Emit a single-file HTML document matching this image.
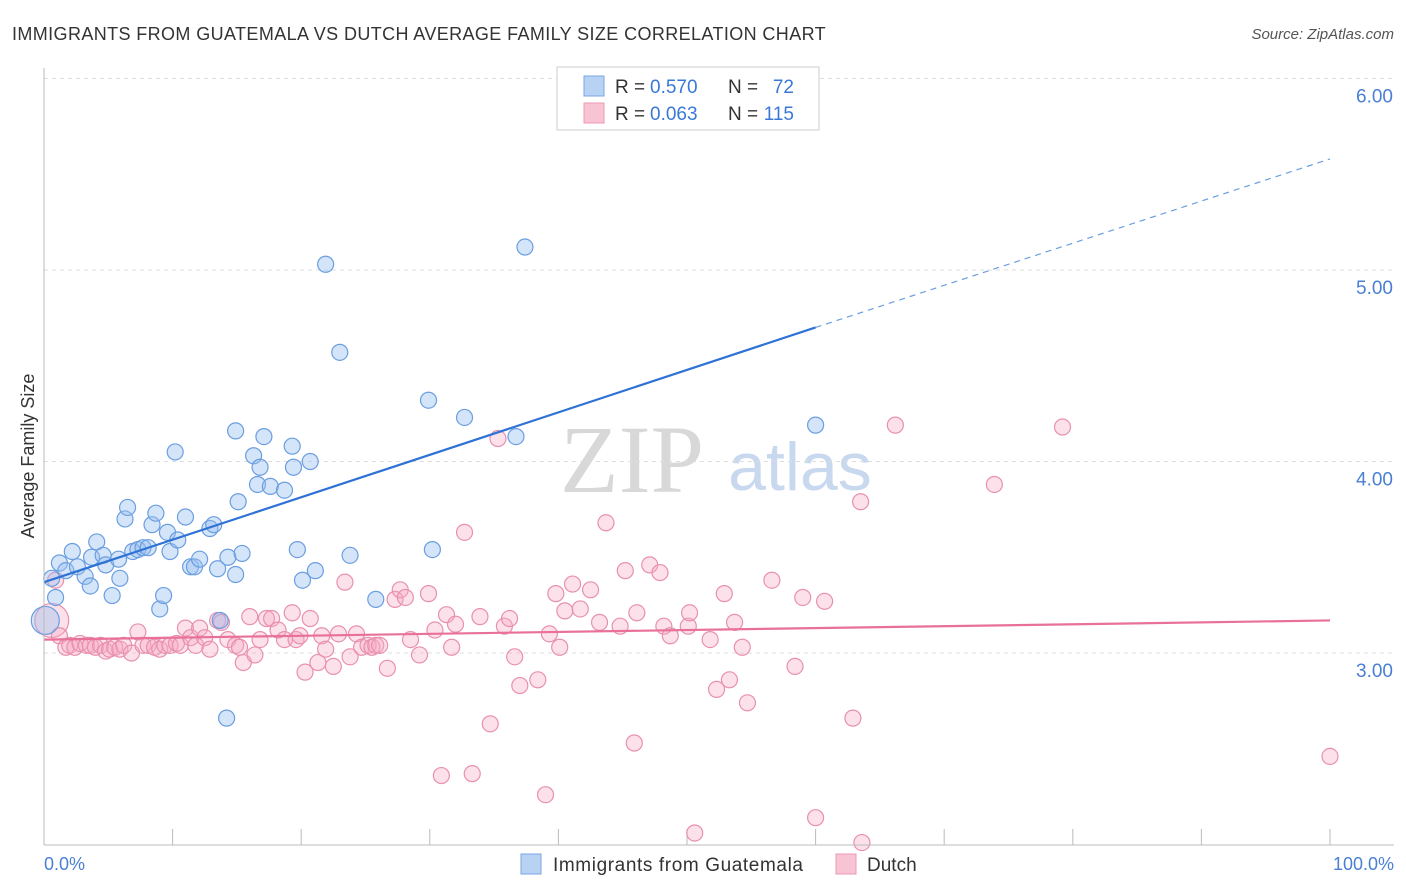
<!DOCTYPE html>
<html><head><meta charset="utf-8"><style>
body{margin:0;background:#fff;font-family:"Liberation Sans",sans-serif;}
svg{display:block}
</style></head><body>
<svg id="chart" width="1406" height="892">
<text x="12" y="40" font-size="18" fill="#333" letter-spacing="0.35" textLength="814">IMMIGRANTS FROM GUATEMALA VS DUTCH AVERAGE FAMILY SIZE CORRELATION CHART</text>
<text x="1394" y="39" font-size="15" fill="#555" font-style="italic" text-anchor="end">Source: ZipAtlas.com</text>
<text x="632" y="492" font-size="96" fill="#d8d8d8" font-family="Liberation Serif,serif" text-anchor="middle">ZIP</text>
<text x="800" y="490" font-size="68" fill="#c8d8ee" text-anchor="middle">atlas</text>
<text transform="translate(34,456) rotate(-90)" font-size="18" fill="#333" text-anchor="middle">Average Family Size</text>
<g id="grid"></g><g id="marks"></g>
<line x1="44" y1="68" x2="44" y2="845" stroke="#bbb"/>
<line x1="44" y1="845" x2="1394" y2="845" stroke="#bbb"/>
<text x="44" y="870" font-size="18" fill="#4a7fd4">0.0%</text>
<text x="1394" y="870" font-size="18" fill="#4a7fd4" text-anchor="end">100.0%</text>
<g>
<rect x="557" y="67" width="262" height="63" fill="#fff" stroke="#ccc"/>
<rect x="584" y="76" width="20" height="20" fill="#b8d2f4" stroke="#7aa6e2"/>
<rect x="584" y="103" width="20" height="20" fill="#f8c4d4" stroke="#ea98b4"/>
<text x="615" y="93" font-size="19" fill="#333">R =</text>
<text x="650" y="93" font-size="19" fill="#3a78d8">0.570</text>
<text x="728" y="93" font-size="19" fill="#333">N =</text>
<text x="794" y="93" font-size="19" fill="#3a78d8" text-anchor="end">72</text>
<text x="615" y="120" font-size="19" fill="#333">R =</text>
<text x="650" y="120" font-size="19" fill="#3a78d8">0.063</text>
<text x="728" y="120" font-size="19" fill="#333">N =</text>
<text x="794" y="120" font-size="19" fill="#3a78d8" text-anchor="end">115</text>
</g>
<g>
<rect x="521" y="854" width="20" height="20" fill="#b8d2f4" stroke="#7aa6e2"/>
<text x="553" y="871" font-size="19" fill="#333" textLength="250">Immigrants from Guatemala</text>
<rect x="836" y="854" width="20" height="20" fill="#f8c4d4" stroke="#ea98b4"/>
<text x="867" y="871" font-size="19" fill="#333">Dutch</text>
</g>
</svg>
<script>
const yTicks=[3,4,5,6];
const yTickLabels=["3.00","4.00","5.00","6.00"];
const xTicks=[0,10,20,30,40,50,60,70,80,90,100];
const blueX=[0.6,0.9,1.2,1.7,2.2,2.6,3.2,3.6,3.7,4.1,4.6,4.8,5.3,5.8,5.9,6.3,6.5,6.9,7.3,7.7,8.1,8.4,8.7,9.0,9.3,9.6,9.8,10.2,10.4,11.0,11.4,11.7,12.1,12.9,13.2,13.5,13.7,14.2,14.3,14.9,14.9,15.1,15.4,16.3,16.6,16.8,17.1,17.6,18.7,19.3,19.4,19.7,20.1,20.7,21.1,21.9,23.0,23.8,25.8,29.9,30.2,32.7,36.7,37.4,60.0,0.1];
const blueY=[3.39,3.29,3.47,3.43,3.53,3.45,3.40,3.35,3.50,3.58,3.51,3.46,3.30,3.49,3.39,3.70,3.76,3.53,3.54,3.55,3.55,3.67,3.73,3.23,3.30,3.63,3.53,4.05,3.59,3.71,3.45,3.45,3.49,3.65,3.67,3.44,3.17,2.66,3.50,3.41,4.16,3.79,3.52,4.03,3.88,3.97,4.13,3.87,3.85,4.08,3.97,3.54,3.38,4.00,3.43,5.03,4.57,3.51,3.28,4.32,3.54,4.23,4.13,5.12,4.19,3.17];
const pinkX=[0.6,0.9,1.2,1.7,2.0,2.4,2.8,3.3,3.6,4.0,4.4,4.8,5.1,5.5,5.9,6.2,6.8,7.3,7.7,8.1,8.6,9.0,9.4,9.8,10.3,10.6,11.0,11.4,11.8,12.1,12.5,12.9,13.5,13.8,14.3,14.9,15.2,15.5,16.0,16.4,16.8,17.3,17.7,18.2,18.7,19.3,19.6,19.9,20.3,20.7,21.3,21.6,21.9,22.5,22.9,23.4,23.8,24.3,24.7,25.2,25.5,25.8,26.1,26.7,27.3,27.7,28.1,28.5,29.2,29.9,30.4,30.9,31.3,31.7,32.0,32.7,33.3,33.9,34.7,35.3,35.8,36.2,36.6,37.0,38.4,39.0,39.3,39.8,40.1,40.5,41.1,41.7,42.5,43.2,43.7,44.8,45.2,45.9,46.1,47.1,47.9,48.2,48.7,50.1,50.2,50.6,51.8,52.3,52.9,53.3,53.7,54.3,54.7,56.6,58.4,59.0,60.0,60.7,62.9,63.5,63.6,66.2,73.9,79.2,100];
const pinkY=[3.17,3.38,3.09,3.03,3.04,3.03,3.05,3.04,3.04,3.03,3.04,3.01,3.02,3.03,3.02,3.04,3.00,3.11,3.04,3.04,3.03,3.02,3.04,3.04,3.05,3.04,3.13,3.08,3.04,3.13,3.08,3.02,3.17,3.16,3.07,3.04,3.03,2.95,3.19,2.99,3.07,3.18,3.18,3.12,3.07,3.21,3.07,3.09,2.90,3.18,2.95,3.09,3.02,2.93,3.10,3.37,2.98,3.10,3.03,3.04,3.03,3.04,3.04,2.92,3.28,3.33,3.29,3.07,2.99,3.31,3.12,2.36,3.20,3.03,3.15,3.63,2.37,3.19,2.63,4.12,3.14,3.18,2.98,2.83,2.86,2.26,3.10,3.31,3.03,3.22,3.36,3.23,3.33,3.16,3.68,3.14,3.43,2.53,3.21,3.46,3.42,3.14,3.09,3.14,3.21,2.06,3.07,2.81,3.31,2.86,3.16,3.03,2.74,3.38,2.93,3.29,2.14,3.27,2.66,3.79,2.01,4.19,3.88,4.18,2.46];
const blueTrendX=[0,60,100];
const blueTrendY=[3.37,4.70,5.58];
const pinkTrendX=[0,100];
const pinkTrendY=[3.07,3.17];
const NS="http://www.w3.org/2000/svg";
const xs=v=>44+v*12.86;
const ys=v=>653-(v-3)*191.5;
const grid=document.getElementById('grid'),marks=document.getElementById('marks');
function mk(tag,at,parent){const e=document.createElementNS(NS,tag);for(const k in at)e.setAttribute(k,at[k]);parent.appendChild(e);return e;}
yTicks.forEach((t,i)=>{
 const l=mk('line',{x1:44,x2:1394,y1:ys(t),y2:ys(t),stroke:'#ddd','stroke-dasharray':'4,4'},grid);
 
 
 const tx=mk('text',{x:1393,y:ys(t)+24,'font-size':19,fill:'#4a7fd4','text-anchor':'end'},grid);
 tx.textContent=yTickLabels[i];
 
 
});
xTicks.forEach(t=>{
 const l=mk('line',{x1:xs(t),x2:xs(t),y1:829,y2:845,stroke:'#bbb'},grid);
 
 
});
pinkX.forEach((x,i)=>{
 const c=mk('circle',{cx:xs(x),cy:ys(pinkY[i]),r:(i==0?17:8),fill:'rgba(245,170,195,0.35)',stroke:'#e890ae','stroke-width':1.2},marks);
 
 
});
blueX.forEach((x,i)=>{
 const c=mk('circle',{cx:xs(x),cy:ys(blueY[i]),r:(i==blueX.length-1?14:8),fill:'rgba(150,190,240,0.4)',stroke:'#6a9ee0','stroke-width':1.2},marks);
 
 
});
const b1=mk('line',{x1:xs(blueTrendX[0]),y1:ys(blueTrendY[0]),x2:xs(blueTrendX[1]),y2:ys(blueTrendY[1]),stroke:'#2f72d6','stroke-width':2.2},marks);


const b2=mk('line',{x1:xs(blueTrendX[1]),y1:ys(blueTrendY[1]),x2:xs(blueTrendX[2]),y2:ys(blueTrendY[2]),stroke:'#6a9ee0','stroke-width':1.2,'stroke-dasharray':'6,5'},marks);


const p1=mk('line',{x1:xs(pinkTrendX[0]),y1:ys(pinkTrendY[0]),x2:xs(pinkTrendX[1]),y2:ys(pinkTrendY[1]),stroke:'#e8709a','stroke-width':2.2},marks);


</script>
</body></html>
